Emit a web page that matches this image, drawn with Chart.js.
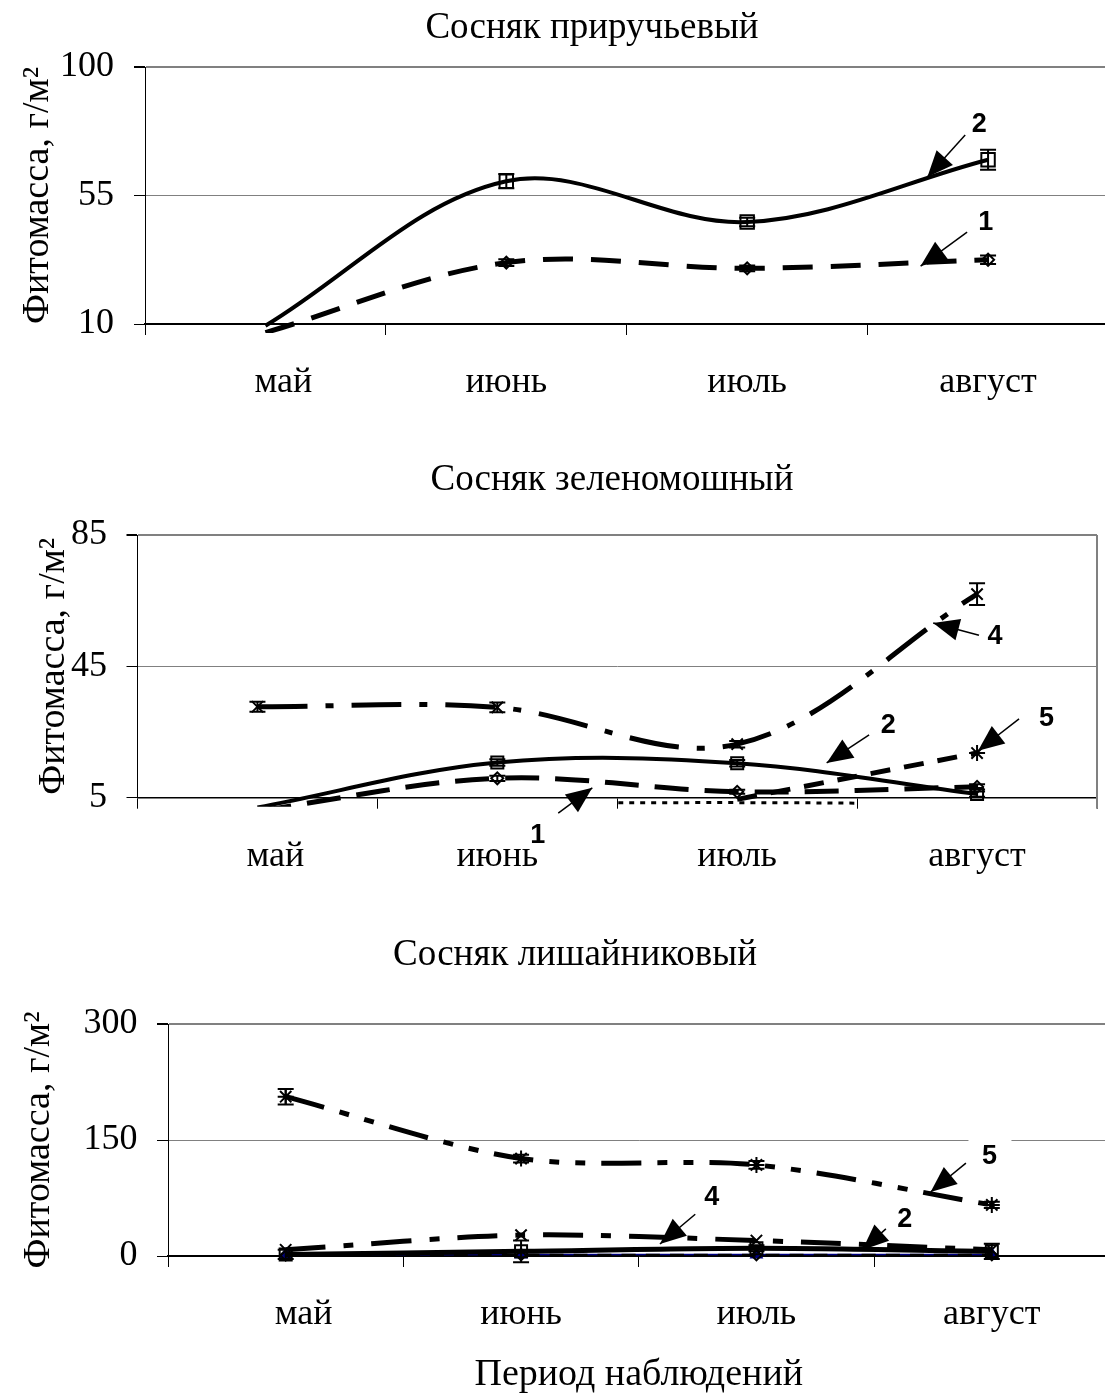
<!DOCTYPE html>
<html lang="ru">
<head>
<meta charset="utf-8">
<title>Фитомасса</title>
<script src="https://cdn.jsdelivr.net/npm/chart.js@4.4.1/dist/chart.umd.min.js"></script>
<style>
  html, body { margin: 0; padding: 0; background: #fff; width: 1105px; height: 1399px; overflow: hidden; }
  .box { position: absolute; left: 0; width: 1120px; }
  #b1 { top: 0; height: 445px; }
  #b2 { top: 445px; height: 470px; }
  #b3 { top: 915px; height: 484px; }
</style>
</head>
<body>
<div class="box" id="b1"><canvas id="c1"></canvas></div>
<div class="box" id="b2"><canvas id="c2"></canvas></div>
<div class="box" id="b3"><canvas id="c3"></canvas></div>
<script>
// --- data ---
const months = ['май', 'июнь', 'июль', 'август'];

// Сосняк приручьевый
const pr1 = [7, 31.5, 29.5, 32.5];
const pr1Err = [0, 1.2, 1, 1.5];
const pr2 = [9.4, 60, 45.7, 67.5];
const pr2Err = [0, 2.5, 1.5, 3.5];
const prTicks = [10, 55, 100];

// Сосняк зеленомошный
const zm1 = [1, 10.9, 6.8, 8.3];
const zm1Err = [0, 0.8, 0.6, 0.8];
const zm2 = [2, 15.7, 15.5, 6.1];
const zm2Err = [0, 1, 1, 0.8];
const zm3 = [null, 3.3, 3.5, 3.1];
const zm4 = [32.7, 32.5, 21.3, 67];
const zm4Err = [1.5, 1.5, 1, 3.3];
const zm5 = [null, null, 4.5, 18.6];
const zmTicks = [5, 45, 85];

// Сосняк лишайниковый
const ls1 = [0.5, 1, 1, 1];
const ls2 = [2, 6, 10, 6];
const ls2Err = [6, 14, 4, 10];
const ls3 = [1, 2, 2, 2];
const ls4 = [8, 27, 20, 8];
const ls5 = [206, 126, 117.7, 66];
const ls5Err = [10, 5, 5, 4];
const lsTicks = [0, 150, 300];

Chart.defaults.font.family = '"Liberation Serif", "Times New Roman", serif';
Chart.defaults.color = '#000';

const serif = '"Liberation Serif", "Times New Roman", serif';
const sans = '"Liberation Sans", Arial, sans-serif';

// hide markers that fall under the axis minimum
const hideBelow = r => c => (c.raw == null || c.raw < c.chart.scales.y.min) ? 0 : r;

function series(data, o) {
  return Object.assign({
    data, borderColor: '#000', backgroundColor: 'transparent', borderWidth: 4,
    pointBorderColor: '#000', pointBackgroundColor: 'transparent', pointBorderWidth: 2,
    pointRadius: hideBelow(7), tension: 0.35,
    clip: { left: 0, top: 5, right: 5, bottom: 9 }
  }, o);
}

function axes(ticks, plotLeft, xHeight, tickPad, titlePad, xTitle) {
  const top = ticks[ticks.length - 1];
  return {
    x: {
      offset: true,
      grid: { offset: true, drawOnChartArea: false, tickLength: 11, tickColor: '#000' },
      border: { color: '#000', width: 1.5 },
      ticks: {
        font: { size: 36 }, padding: 26, maxRotation: 0, autoSkip: false,
        // the first month label sits a little right of its point in the original
        callback: (v, i) => (i === 0 ? '\u2003' : '') + months[i]
      },
      title: xTitle ? { display: true, text: xTitle, font: { size: 38 }, padding: { top: 0, bottom: 1 } } : { display: false },
      afterFit: s => { s.height = xHeight; }
    },
    y: {
      min: ticks[0], max: top,
      afterBuildTicks: s => { s.ticks = ticks.map(v => ({ value: v })); },
      grid: {
        color: c => c.tick && c.tick.value === ticks[0] ? '#000' : '#808080',
        lineWidth: c => c.tick && c.tick.value === top ? 2 : 1,
        tickLength: 11, tickColor: '#000'
      },
      border: { color: '#000', width: 1 },
      ticks: { font: { size: 36 }, padding: tickPad },
      title: { display: true, text: 'Фитомасса, г/м²', font: { size: 38 }, padding: { top: titlePad, bottom: 0 } },
      afterFit: s => { s.width = plotLeft; }
    }
  };
}

// titles, error bars, numbered arrows, clipped band
const overlay = {
  id: 'overlay',
  beforeDatasetDraw(chart, args, o) {
    const b = o.band;
    if (!b || args.index !== b.dataset) return;
    const x = chart.scales.x, a = chart.chartArea, ctx = chart.ctx;
    const x0 = x.getPixelForValue(b.from), x1 = x.getPixelForValue(b.to);
    ctx.save();
    ctx.beginPath();
    ctx.rect(x0, a.bottom, x1 - x0, b.depth);
    ctx.clip();
  },
  afterDatasetDraw(chart, args, o) {
    if (o.band && args.index === o.band.dataset) chart.ctx.restore();
  },
  afterDatasetsDraw(chart, args, o) {
    const { ctx, scales: { x, y }, chartArea: a } = chart;
    ctx.save();
    if (o.rightBorder) {
      ctx.strokeStyle = '#808080'; ctx.lineWidth = 2;
      ctx.beginPath(); ctx.moveTo(a.right, a.top); ctx.lineTo(a.right, a.bottom + 11); ctx.stroke();
    }
    // error bars
    ctx.strokeStyle = '#000'; ctx.lineWidth = 2;
    chart.data.datasets.forEach((ds, i) => {
      if (!ds.errors) return;
      const meta = chart.getDatasetMeta(i);
      ds.data.forEach((v, j) => {
        const e = ds.errors[j];
        if (v == null || !e || v < y.min) return;
        const px = meta.data[j].x;
        const y0 = y.getPixelForValue(v - e), y1 = y.getPixelForValue(v + e);
        ctx.beginPath();
        ctx.moveTo(px, y0); ctx.lineTo(px, y1);
        ctx.moveTo(px - 8, y0); ctx.lineTo(px + 8, y0);
        ctx.moveTo(px - 8, y1); ctx.lineTo(px + 8, y1);
        ctx.stroke();
      });
    });
    // numbered arrows
    const P = p => [x.getPixelForValue(p[0]), y.getPixelForValue(p[1])];
    (o.notes || []).forEach(n => {
      const [tx, ty] = P(n.at), [ax, ay] = P(n.from), [bx, by] = P(n.tip);
      if (n.boxed) { ctx.fillStyle = '#fff'; ctx.fillRect(tx - 21, ty - 22, 43, 44); }
      ctx.fillStyle = '#000'; ctx.strokeStyle = '#000'; ctx.lineWidth = 1.5;
      ctx.beginPath(); ctx.moveTo(ax, ay); ctx.lineTo(bx, by); ctx.stroke();
      const ang = Math.atan2(by - ay, bx - ax), L = 26, W = 11;
      const cx = bx - L * Math.cos(ang), cy = by - L * Math.sin(ang);
      ctx.beginPath();
      ctx.moveTo(bx, by);
      ctx.lineTo(cx + W * Math.sin(ang), cy - W * Math.cos(ang));
      ctx.lineTo(cx - W * Math.sin(ang), cy + W * Math.cos(ang));
      ctx.closePath(); ctx.fill();
      ctx.font = 'bold 27px ' + sans;
      ctx.textAlign = 'center'; ctx.textBaseline = 'middle';
      ctx.fillText(n.text, tx, ty);
    });
    ctx.restore();
  },
  afterDraw(chart, args, o) {
    if (!o.title) return;
    const ctx = chart.ctx;
    ctx.save();
    ctx.font = '37px ' + serif;
    ctx.fillStyle = '#000';
    ctx.textAlign = 'center'; ctx.textBaseline = 'middle';
    ctx.fillText(o.title.text, o.title.x, o.title.y);
    ctx.restore();
  }
};
Chart.register(overlay);

const common = { responsive: true, maintainAspectRatio: false, animation: false, elements: { line: { capBezierPoints: false } } };

// Chart 1
new Chart(document.getElementById('c1'), {
  type: 'line',
  data: {
    labels: months,
    datasets: [
      series(pr1, { borderWidth: 5, borderDash: [30, 18], pointStyle: 'rectRot', pointRadius: hideBelow(6), errors: pr1Err }),
      series(pr2, { pointStyle: 'rect', pointRadius: hideBelow(9.5), errors: pr2Err })
    ]
  },
  options: Object.assign({}, common, {
    layout: { padding: { top: 67, right: 7, bottom: 0, left: 0 } },
    scales: axes(prTicks, 145, 121, 20, 15),
    plugins: {
      legend: { display: false }, tooltip: { enabled: false },
      overlay: {
        title: { text: 'Сосняк приручьевый', x: 592, y: 28 },
        notes: [
          { text: '2', at: [2.963, 79.7], from: [2.905, 76.2], tip: [2.748, 61.5] },
          { text: '1', at: [2.99, 45.7], from: [2.913, 42.2], tip: [2.72, 30.3] }
        ]
      }
    }
  })
});

// Chart 2
new Chart(document.getElementById('c2'), {
  type: 'line',
  data: {
    labels: months,
    datasets: [
      series(zm1, { borderWidth: 5, borderDash: [34, 16], pointStyle: 'rectRot', pointRadius: hideBelow(6), errors: zm1Err }),
      series(zm2, { pointStyle: 'rect', pointRadius: hideBelow(8.5), errors: zm2Err }),
      series(zm3, { borderWidth: 3, borderDash: [5, 6], pointRadius: 0, clip: false }),
      series(zm4, { borderWidth: 5, borderDash: [50, 18, 8, 18], pointStyle: 'crossRot', pointRadius: hideBelow(8), errors: zm4Err }),
      series(zm5, { borderWidth: 5, borderDash: [20, 14], pointStyle: 'star', pointRadius: hideBelow(8) })
    ]
  },
  options: Object.assign({}, common, {
    layout: { padding: { top: 90, right: 23, bottom: 0, left: 0 } },
    scales: axes(zmTicks, 137.5, 117.3, 19.5, 31),
    plugins: {
      legend: { display: false }, tooltip: { enabled: false },
      overlay: {
        title: { text: 'Сосняк зеленомошный', x: 612, y: 35 },
        rightBorder: true,
        band: { dataset: 2, from: 1.5, to: 2.5, depth: 12 },
        notes: [
          { text: '4', at: [3.075, 54.2], from: [3.008, 54.5], tip: [2.817, 58.2] },
          { text: '5', at: [3.29, 29], from: [3.175, 29], tip: [3.004, 19.3] },
          { text: '2', at: [2.63, 27.1], from: [2.55, 24.1], tip: [2.373, 15.6] },
          { text: '1', at: [1.169, -6.4], from: [1.254, 0.3], tip: [1.396, 8] }
        ]
      }
    }
  })
});

// Chart 3
new Chart(document.getElementById('c3'), {
  type: 'line',
  data: {
    labels: months,
    datasets: [
      series(ls1, { borderWidth: 3, borderDash: [14, 10], pointStyle: 'rectRot', pointRadius: 5, tension: 0.3 }),
      series(ls2, { borderWidth: 5, pointStyle: 'rect', pointRadius: 8.5, errors: ls2Err, tension: 0.3 }),
      series(ls3, { borderWidth: 1.5, borderColor: '#000080', pointStyle: 'triangle', pointRadius: 6, pointBorderColor: '#000080', pointBackgroundColor: '#000080', tension: 0.3 }),
      series(ls4, { borderWidth: 5, borderDash: [40, 18, 10, 18], pointStyle: 'crossRot', pointRadius: 8, tension: 0.3 }),
      series(ls5, { borderWidth: 5, borderDash: [40, 16, 10, 16, 10, 16], pointStyle: 'star', pointRadius: 8, errors: ls5Err, tension: 0.3 })
    ]
  },
  options: Object.assign({}, common, {
    layout: { padding: { top: 109, right: 9, bottom: 0, left: 0 } },
    scales: axes(lsTicks, 168, 143, 19.5, 16, 'Период наблюдений'),
    plugins: {
      legend: { display: false }, tooltip: { enabled: false },
      overlay: {
        title: { text: 'Сосняк лишайниковый', x: 575, y: 40 },
        notes: [
          { text: '5', at: [2.99, 129], from: [2.89, 120], tip: [2.74, 82.8], boxed: true },
          { text: '4', at: [1.81, 76], from: [1.74, 54], tip: [1.59, 15.5] },
          { text: '2', at: [2.63, 46.5], from: [2.55, 35], tip: [2.45, 7.8] }
        ]
      }
    }
  })
});
</script>
</body>
</html>
